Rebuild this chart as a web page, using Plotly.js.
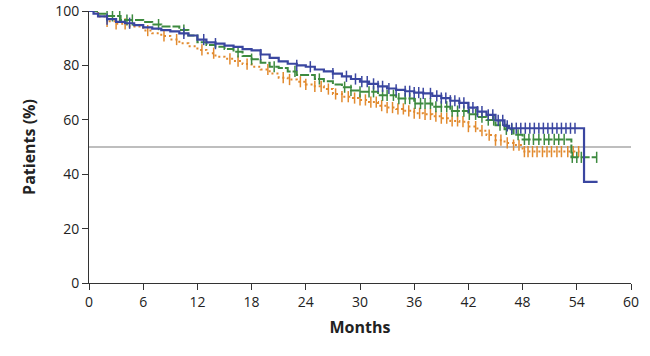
<!DOCTYPE html>
<html>
<head>
<meta charset="utf-8">
<script src="https://cdn.plot.ly/plotly-3.0.1.min.js"></script>
<style>html,body{margin:0;padding:0;background:#fff;}#chart{width:650px;height:356px;}</style>
</head>
<body>
<div id="chart"></div>
<script>
// Kaplan-Meier step curves (months, % patients)
const blueTimes = [0,0.5,1,2,3,4,5,6,7,8,9,10,11,12,13,14,15,16,17,18,19,20,21,22,23,24,25,26,27,28,29,30,31,32,33,34,35,36,37,38,39,40,41,42,43,44,45,46,46.5,54.8,56.3];
const blueSurv  = [100,99,98,97,96,95.5,94.8,94,93.5,93,92.5,91.8,91,89.5,88.5,88,87.3,86.8,86,85.5,84,82.8,81.5,80.6,80,79.5,78.5,77.8,77,76,75,74,73.2,72.3,71.5,71,70.5,70,69.7,68.8,68,67,66.2,64.5,63,61.8,59.8,57.8,56.9,37.2,37.2];
const blueCensor = [2,4.5,10.5,12.7,14,19,23,24.5,27,28.5,29.5,30.2,30.8,31.5,32,32.5,33.2,34,35,35.5,36,36.5,37,37.8,38.5,39,39.5,40,40.5,41,41.5,42,42.5,43,43.5,44.2,44.7,45.3,45.8,46.3,46.8,47.3,47.8,48.3,48.8,49.3,49.8,50.3,50.8,51.3,51.8,52.3,52.8,53.3,53.8];

const greenTimes = [0,1,2,3.5,6,7,8,10,11,12,13,14,15,16,17,18,19,20,21,22,23,25,26,27,28,29,30,32,34,36,38,40,42,43,44,45,46,47,48,53.4,56.2];
const greenSurv  = [100,99,98.2,96.7,96,95,94.3,93,91,88.5,87.5,86.9,86,85,83.5,82.3,81,79.5,79,77.8,76.5,75,74.2,73,72,70.8,70.3,69,67.8,66,64.8,63.2,62,61,59.9,58,56.5,54.5,52.8,46.2,46.2];
const greenCensor = [2,2.6,3.4,4.2,4.8,7.7,10.5,16.5,18,20.5,22.8,25.5,28.3,29,30,31,31.5,32.5,33,33.7,34.3,35,35.5,36.1,36.7,37.2,37.8,38.4,39,39.6,40.2,40.8,41.5,42.1,42.8,43.5,44.2,44.8,45.5,46.2,46.8,47.5,48.2,48.7,49.2,49.8,50.4,50.9,51.5,52,52.6,53.5,54,54.5,56.2];

const orangeTimes = [0,1,2,3,4.5,6,7,8,9,10,11,12,13,14,15,16,17,18,19,20,21,22,23,24,25,26,27,28,29,30,31,32,33,34,35,36,37,38,39,40,41,42,43,44,45,46,47,48,54.3];
const orangeSurv  = [100,98,96.2,95.3,94.3,92.8,91.8,90.8,89.5,88.1,87,85.7,84.5,83.2,82.4,81.6,80.5,79.5,78.5,77,75.5,74.8,74,73,72.3,71.3,69.5,68.5,68,67.3,66.5,65.2,64.5,64,63.3,62.4,62,61.3,60.6,59.6,59.3,57.5,56,54.4,52.5,51.5,50.7,48.3,48.3];
const orangeCensor = [2,3,4,6.5,8.3,9.7,12.5,13.8,15.6,16.5,17.5,19.8,21.5,22.2,23.4,24,25,25.7,26.5,27.3,28,28.7,29.4,30,30.6,31.2,31.8,32.4,33,33.6,34.2,34.8,35.4,36,36.6,37.2,37.8,38.4,39,39.6,40.2,40.8,41.4,42,42.8,43.5,44.3,45,45.6,46.3,47,47.6,48.2,48.6,49.1,49.6,50.2,50.7,51.2,51.8,52.3,53,53.6,54.2];

const xTicks = [0,6,12,18,24,30,36,42,48,54,60];
const yTicks = [0,20,40,60,80,100];

function stepAt(times, surv, t){
  let v = surv[0];
  for(let i=0;i<times.length;i++){ if(times[i] <= t) v = surv[i]; else break; }
  return v;
}

const BLUE = '#3a46a0', GREEN = '#3d8a3f', ORANGE = '#e28a2e';

function curve(times, surv, color, dash, w){
  return {x: times, y: surv, type:'scatter', mode:'lines', line:{shape:'hv', color: color, width: w, dash: dash}, hoverinfo:'skip', showlegend:false};
}
function censor(times, surv, cens, color){
  return {x: cens, y: cens.map(t => stepAt(times, surv, t)), type:'scatter', mode:'markers',
    marker:{symbol:'line-ns', size:8, color: color, line:{color: color, width:1.5}}, hoverinfo:'skip', showlegend:false};
}

const data = [
  curve(orangeTimes, orangeSurv, ORANGE, '2px,3px', 2),
  censor(orangeTimes, orangeSurv, orangeCensor, ORANGE),
  curve(greenTimes, greenSurv, GREEN, '9px,2px', 2),
  censor(greenTimes, greenSurv, greenCensor, GREEN),
  curve(blueTimes, blueSurv, BLUE, 'solid', 2.2),
  censor(blueTimes, blueSurv, blueCensor, BLUE)
];

const FONT = '"Open Sans", "Noto Sans", sans-serif';
const layout = {
  width: 650, height: 356,
  margin: {l: 89, r: 19, t: 11, b: 73},
  paper_bgcolor: '#fff', plot_bgcolor: '#fff',
  font: {family: FONT, color: '#222', size: 14},
  xaxis: {range: [0, 60], tickvals: xTicks, ticktext: xTicks.map(String), ticks: 'outside', ticklen: 6, tickcolor: '#333', tickwidth: 1,
    showline: true, linecolor: '#333', linewidth: 1, showgrid: false, zeroline: false,
    tickfont: {family: FONT, size: 14, color: '#222'},
    title: {text: '<b>Months</b>', font: {family: FONT, size: 16, color: '#222'}, standoff: 12}},
  yaxis: {range: [0, 100], tickvals: yTicks, ticktext: yTicks.map(String), ticks: 'outside', ticklen: 6, tickcolor: '#333', tickwidth: 1,
    showline: true, linecolor: '#333', linewidth: 1, showgrid: false, zeroline: false,
    tickfont: {family: FONT, size: 14, color: '#222'},
    title: {text: '<b>Patients (%)</b>', font: {family: FONT, size: 16, color: '#222'}, standoff: 15}},
  shapes: [{type: 'line', xref: 'x', yref: 'y', x0: 0, x1: 60, y0: 50, y1: 50, line: {color: '#a8a8a8', width: 1.5}, layer: 'below'}]
};

Plotly.newPlot('chart', data, layout, {staticPlot: true, displayModeBar: false});
</script>
</body>
</html>
